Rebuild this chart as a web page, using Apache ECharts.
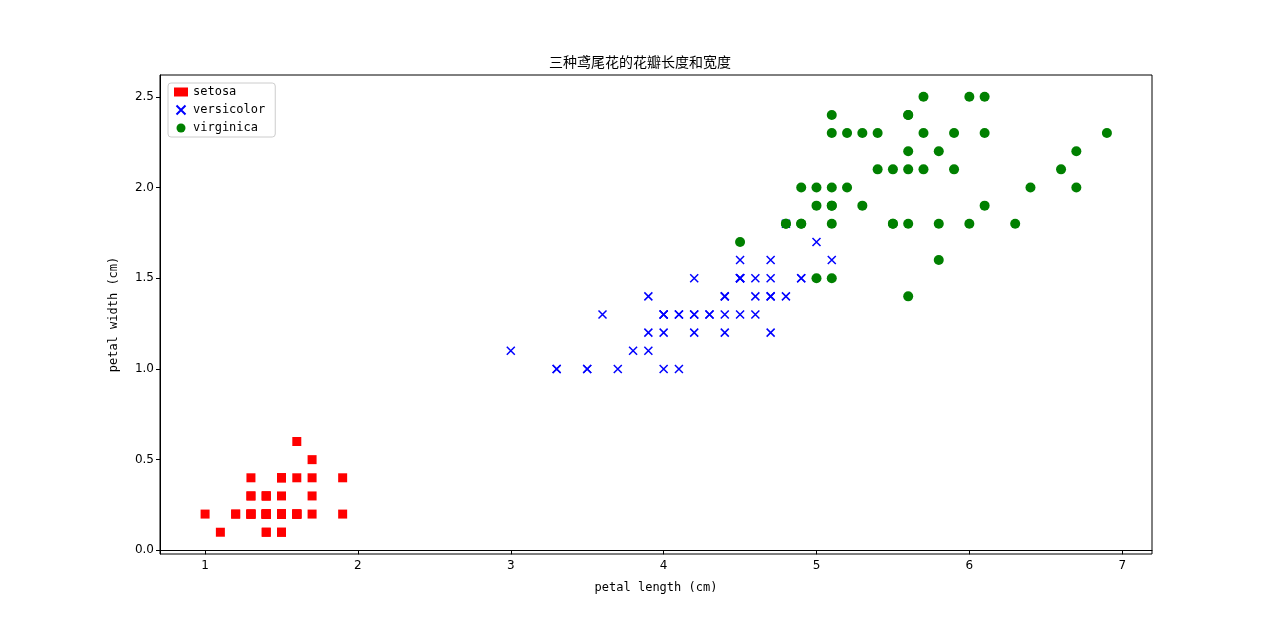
<!DOCTYPE html><html><head><meta charset="utf-8"><script src="https://cdn.jsdelivr.net/npm/echarts@6/dist/echarts.min.js"></script></head><body style="margin:0"><div id="c" style="width:1280px;height:623px"></div><script>
const setosa=[[1.4,.2],[1.4,.2],[1.3,.2],[1.5,.2],[1.4,.2],[1.7,.4],[1.4,.3],[1.5,.2],[1.4,.2],[1.5,.1],[1.5,.2],[1.6,.2],[1.4,.1],[1.1,.1],[1.2,.2],[1.5,.4],[1.3,.4],[1.4,.3],[1.7,.3],[1.5,.3],[1.7,.2],[1.5,.4],[1.0,.2],[1.7,.5],[1.9,.2],[1.6,.2],[1.6,.4],[1.5,.2],[1.4,.2],[1.6,.2],[1.6,.2],[1.5,.4],[1.5,.1],[1.4,.2],[1.5,.2],[1.2,.2],[1.3,.2],[1.4,.1],[1.3,.2],[1.5,.2],[1.3,.3],[1.3,.3],[1.3,.2],[1.6,.6],[1.9,.4],[1.4,.3],[1.6,.2],[1.4,.2],[1.5,.2],[1.4,.2]];
const versicolor=[[4.7,1.4],[4.5,1.5],[4.9,1.5],[4.0,1.3],[4.6,1.5],[4.5,1.3],[4.7,1.6],[3.3,1.0],[4.6,1.3],[3.9,1.4],[3.5,1.0],[4.2,1.5],[4.0,1.0],[4.7,1.4],[3.6,1.3],[4.4,1.4],[4.5,1.5],[4.1,1.0],[4.5,1.5],[3.9,1.1],[4.8,1.8],[4.0,1.3],[4.9,1.5],[4.7,1.2],[4.3,1.3],[4.4,1.4],[4.8,1.4],[5.0,1.7],[4.5,1.5],[3.5,1.0],[3.8,1.1],[3.7,1.0],[3.9,1.2],[5.1,1.6],[4.5,1.5],[4.5,1.6],[4.7,1.5],[4.4,1.3],[4.1,1.3],[4.0,1.3],[4.4,1.2],[4.6,1.4],[4.0,1.2],[3.3,1.0],[4.2,1.3],[4.2,1.2],[4.2,1.3],[4.3,1.3],[3.0,1.1],[4.1,1.3]];
const virginica=[[6.0,2.5],[5.1,1.9],[5.9,2.1],[5.6,1.8],[5.8,2.2],[6.6,2.1],[4.5,1.7],[6.3,1.8],[5.8,1.8],[6.1,2.5],[5.1,2.0],[5.3,1.9],[5.5,2.1],[5.0,2.0],[5.1,2.4],[5.3,2.3],[5.5,1.8],[6.7,2.2],[6.9,2.3],[5.0,1.5],[5.7,2.3],[4.9,2.0],[6.7,2.0],[4.9,1.8],[5.7,2.1],[6.0,1.8],[4.8,1.8],[4.9,1.8],[5.6,2.1],[5.8,1.6],[6.1,1.9],[6.4,2.0],[5.6,2.2],[5.1,1.5],[5.6,1.4],[6.1,2.3],[5.6,2.4],[5.5,1.8],[4.8,1.8],[5.4,2.1],[5.6,2.4],[5.1,2.3],[5.1,1.9],[5.9,2.3],[5.7,2.5],[5.2,2.3],[5.0,1.9],[5.2,2.0],[5.4,2.3],[5.1,1.8]];
const xTicks=[1,2,3,4,5,6,7];
const yTicks=[0,0.5,1,1.5,2,2.5];
const mono='DejaVu Sans Mono';
const X='path://M0,0L10,10M10,0L0,10';
const ax=(min,max,ticks,fmt,name,gap,loc)=>({type:'value',min,max,name,nameLocation:'middle',nameGap:gap,
 nameTextStyle:{fontFamily:mono,fontSize:12,color:'#000'},splitLine:{show:false},
 axisLine:{show:true,lineStyle:{color:'#000'}},axisTick:{show:true,length:4,customValues:ticks,lineStyle:{color:'#000'}},
 axisLabel:{customValues:ticks,formatter:fmt,fontFamily:'DejaVu Sans',fontSize:12,color:'#000',margin:6}});
echarts.init(document.getElementById('c')).setOption({animation:false,
title:{text:'三种鸢尾花的花瓣长度和宽度',left:'center',top:50,textStyle:{fontFamily:'Noto Sans CJK SC',fontSize:14,fontWeight:'normal',color:'#000'}},
grid:{left:160,right:128,top:75,bottom:69,show:true,borderColor:'#000',borderWidth:1},
legend:{orient:'vertical',left:168,top:83,backgroundColor:'#fff',borderColor:'#ccc',borderWidth:1,borderRadius:3,padding:[3,10,3,6],itemGap:5,itemWidth:14,itemHeight:9,
 textStyle:{fontFamily:mono,fontSize:12,color:'#000'},data:['setosa','versicolor','virginica']},
xAxis:ax(0.705,7.195,xTicks,v=>String(v),'petal length (cm)',28),
yAxis:ax(-0.02,2.62,yTicks,v=>v.toFixed(1),'petal width (cm)',40),
series:[
{name:'setosa',type:'scatter',data:setosa,symbol:'rect',symbolSize:9,itemStyle:{color:'#ff0000',opacity:1}},
{name:'versicolor',type:'scatter',data:versicolor,symbol:X,symbolSize:8,itemStyle:{color:'none',borderColor:'#0000ff',borderWidth:1.5,opacity:1}},
{name:'virginica',type:'scatter',data:virginica,symbol:'circle',symbolSize:10,itemStyle:{color:'#008000',opacity:1}}]});
</script></body></html>
